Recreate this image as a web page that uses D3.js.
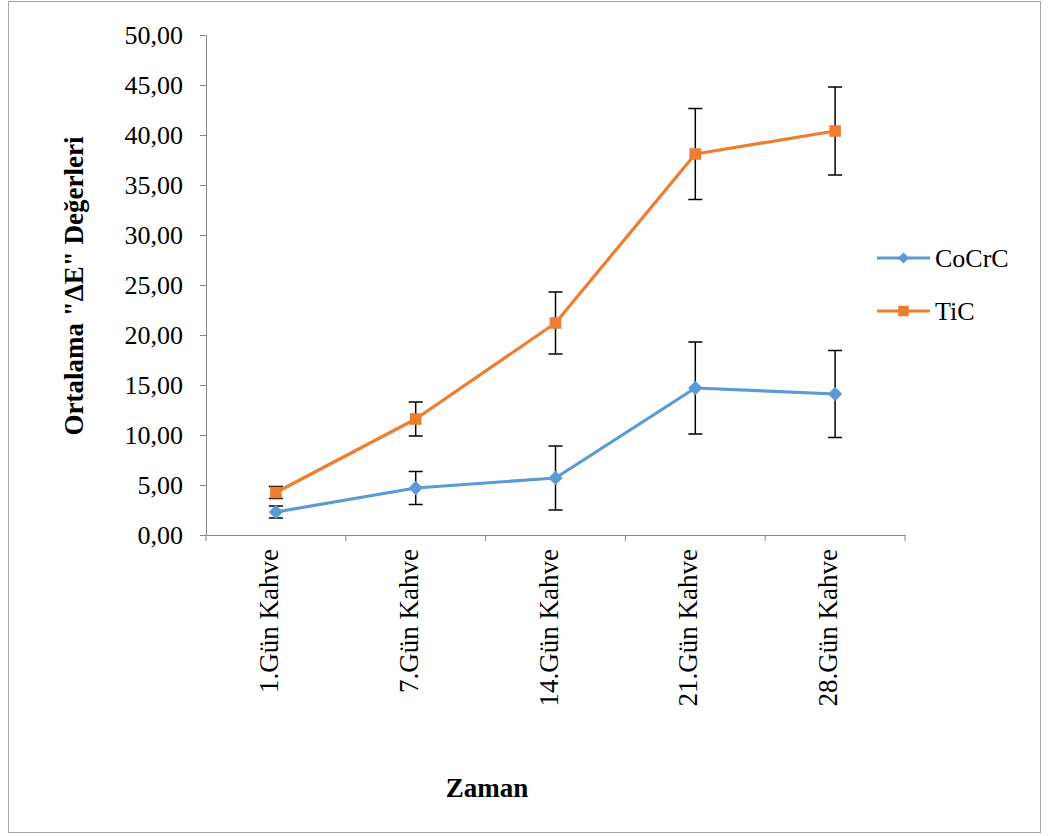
<!DOCTYPE html>
<html>
<head>
<meta charset="utf-8">
<script src="https://cdn.jsdelivr.net/npm/d3@7"></script>
<style>
  html, body { margin: 0; padding: 0; background: #fff; }
  svg { display: block; font-family: "Liberation Serif", "Times New Roman", serif; }
</style>
</head>
<body>
<svg id="chart" width="1048" height="836"></svg>
<script>
// Sampling days (category axis)
const categories = ["1.Gün Kahve", "7.Gün Kahve", "14.Gün Kahve", "21.Gün Kahve", "28.Gün Kahve"];
// Mean ΔE values per group
const cocrcMeans = [2.3, 4.7, 5.7, 14.7, 14.1];
const ticMeans = [4.25, 11.6, 21.2, 38.1, 40.4];
// Standard deviations (error bars)
const cocrcErr = [0.6, 1.65, 3.2, 4.6, 4.35];
const ticErr = [0.6, 1.7, 3.1, 4.55, 4.4];
// Y axis ticks
const yTicks = [0, 5, 10, 15, 20, 25, 30, 35, 40, 45, 50];

const series = [
  { name: "CoCrC", means: cocrcMeans, err: cocrcErr, color: "#5B9BD5", marker: "diamond" },
  { name: "TiC", means: ticMeans, err: ticErr, color: "#ED7D31", marker: "square" }
];

const svg = d3.select("#chart");
const plot = { left: 206, right: 905, top: 35, bottom: 535 };
const axisColor = "#868686";
const fontSize = 26;

// Chart frame
svg.append("rect")
  .attr("x", 8.5).attr("y", 1.5).attr("width", 1032).attr("height", 831)
  .attr("fill", "#fff").attr("stroke", "#a6a6a6").attr("stroke-width", 1);

const x = d3.scaleBand().domain(categories).range([plot.left, plot.right]);
const y = d3.scaleLinear().domain([0, 50]).range([plot.bottom, plot.top]);
const fmt = v => d3.format(".2f")(v).replace(".", ",");

// Y axis
const yAxis = svg.append("g")
  .attr("transform", `translate(${plot.left},0)`)
  .call(d3.axisLeft(y).tickValues(yTicks).tickFormat(fmt).tickSize(6).tickSizeOuter(0).tickPadding(17));
yAxis.select(".domain").attr("stroke", axisColor);
yAxis.selectAll(".tick line").attr("stroke", axisColor);
yAxis.selectAll(".tick text")
  .attr("fill", "#000").attr("font-size", fontSize).attr("font-family", "Liberation Serif");

// X axis with boundary ticks between categories
const xAxis = svg.append("g")
  .attr("transform", `translate(0,${plot.bottom})`)
  .call(d3.axisBottom(x).tickSize(0).tickSizeOuter(0).tickFormat(""));
xAxis.select(".domain").attr("stroke", axisColor);
const boundaries = categories.map(c => x(c)).concat([x(categories[categories.length - 1]) + x.bandwidth()]);
xAxis.selectAll(".bound").data(boundaries).join("line")
  .attr("class", "bound")
  .attr("x1", d => d).attr("x2", d => d)
  .attr("y1", 0).attr("y2", 6)
  .attr("stroke", axisColor);

// Category labels, rotated
svg.append("g").selectAll("text").data(categories).join("text")
  .attr("transform", d => `translate(${x(d) + x.bandwidth() / 2 + 2},549) rotate(-90)`)
  .attr("text-anchor", "end")
  .attr("font-size", 27)
  .attr("fill", "#000")
  .text(d => d);

// Error bars (drawn beneath the lines and markers)
const capHalf = 7;
series.forEach(s => {
  const g = svg.append("g").attr("class", "err");
  categories.forEach((c, i) => {
    const cx = x(c) + x.bandwidth() / 2;
    const hi = y(s.means[i] + s.err[i]);
    const lo = y(s.means[i] - s.err[i]);
    g.append("line").attr("x1", cx).attr("x2", cx).attr("y1", hi).attr("y2", lo)
      .attr("stroke", "#000").attr("stroke-width", 1.5);
    [hi, lo].forEach(yy => {
      g.append("line").attr("x1", cx - capHalf).attr("x2", cx + capHalf).attr("y1", yy).attr("y2", yy)
        .attr("stroke", "#000").attr("stroke-width", 1.5);
    });
  });
});

// Lines and markers
const line = d3.line()
  .x((d, i) => x(categories[i]) + x.bandwidth() / 2)
  .y(d => y(d));

const symbolFor = m => m === "diamond"
  ? d3.symbol().type(d3.symbolDiamond2).size(130)
  : d3.symbol().type(d3.symbolSquare).size(135);

series.forEach(s => {
  svg.append("path").datum(s.means)
    .attr("d", line)
    .attr("fill", "none").attr("stroke", s.color).attr("stroke-width", 3.2)
    .attr("stroke-linejoin", "round");
  svg.append("g").selectAll("path").data(s.means).join("path")
    .attr("transform", (d, i) => `translate(${x(categories[i]) + x.bandwidth() / 2},${y(d)})`)
    .attr("d", symbolFor(s.marker)())
    .attr("fill", s.color);
});

// Legend
const legend = svg.append("g");
series.forEach((s, i) => {
  const ly = 258 + i * 53;
  legend.append("line").attr("x1", 877).attr("x2", 930).attr("y1", ly).attr("y2", ly)
    .attr("stroke", s.color).attr("stroke-width", 3.2);
  legend.append("path")
    .attr("transform", `translate(903.5,${ly})`)
    .attr("d", (s.marker === "diamond"
      ? d3.symbol().type(d3.symbolDiamond2).size(80)
      : d3.symbol().type(d3.symbolSquare).size(110))())
    .attr("fill", s.color);
  legend.append("text").attr("x", 935).attr("y", ly + 9)
    .attr("font-size", fontSize).attr("fill", "#000").text(s.name);
});

// Axis titles
svg.append("text")
  .attr("transform", "translate(83,286) rotate(-90)")
  .attr("text-anchor", "middle")
  .attr("font-size", 27).attr("font-weight", "bold").attr("fill", "#000")
  .text("Ortalama \"ΔE\" Değerleri");

svg.append("text")
  .attr("x", 487).attr("y", 797)
  .attr("text-anchor", "middle")
  .attr("font-size", 27).attr("font-weight", "bold").attr("fill", "#000")
  .text("Zaman");
</script>
</body>
</html>
